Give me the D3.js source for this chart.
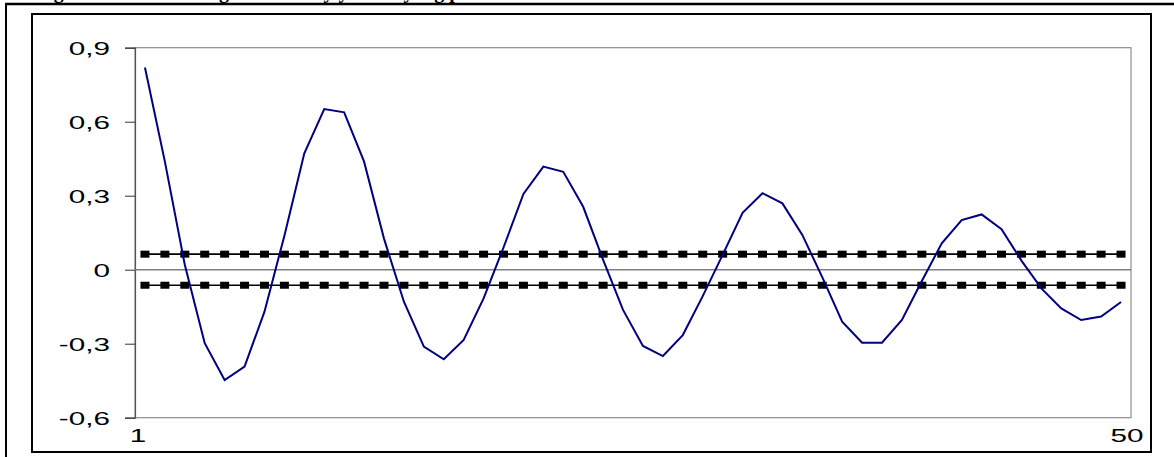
<!DOCTYPE html>
<html>
<head>
<meta charset="utf-8">
<script src="https://cdn.jsdelivr.net/npm/d3@7"></script>
<style>
  html, body { margin: 0; padding: 0; background: #fff; }
  svg { display: block; }
</style>
</head>
<body>
<svg id="chart" width="1174" height="457"></svg>
<script>
// Lags 1..50
const lags = d3.range(1, 51);

// Autocorrelation coefficient at each lag
const acf = [
  0.82, 0.438, 0.02, -0.298, -0.447, -0.393, -0.170, 0.138, 0.472, 0.651,
  0.638, 0.438, 0.126, -0.130, -0.312, -0.363, -0.285, -0.116, 0.09, 0.307,
  0.418, 0.397, 0.255, 0.04, -0.163, -0.309, -0.350, -0.265, -0.107, 0.06,
  0.231, 0.310, 0.269, 0.141, -0.03, -0.211, -0.296, -0.296, -0.204, -0.046,
  0.107, 0.201, 0.224, 0.164, 0.037, -0.076, -0.157, -0.204, -0.190, -0.131
];

// Confidence bounds (upper / lower)
const upperBound = 0.063;
const lowerBound = -0.063;

// Axis ticks
const yTicks = [-0.6, -0.3, 0, 0.3, 0.6, 0.9];
const xTickLabels = ["1", "50"];

const svg = d3.select("#chart");

// Page frame lines
svg.append("line").attr("x1", 5).attr("x2", 1174).attr("y1", 4).attr("y2", 4)
  .attr("stroke", "#000").attr("stroke-width", 2.5);
svg.append("line").attr("x1", 6).attr("x2", 6).attr("y1", 3).attr("y2", 457)
  .attr("stroke", "#000").attr("stroke-width", 2);

// Caption, mostly clipped above the frame
svg.append("text")
  .attr("x", 36).attr("y", -2)
  .attr("font-family", "Liberation Serif, Times New Roman, serif")
  .attr("font-weight", "bold").attr("font-size", 20)
  .text("Figure 2. Autocorrelogram of daily yields by lag period");

// Chart frame
svg.append("rect")
  .attr("x", 32).attr("y", 14).attr("width", 1119).attr("height", 438)
  .attr("fill", "#fff").attr("stroke", "#000").attr("stroke-width", 2);

const plot = { left: 135, right: 1131, top: 47.7, bottom: 417.7 };

const x = d3.scalePoint().domain(lags).range([plot.left, plot.right]).padding(0.5);
const y = d3.scaleLinear().domain([-0.6, 0.9]).range([plot.bottom, plot.top]);

// Plot area border
svg.append("rect")
  .attr("x", plot.left).attr("y", plot.top)
  .attr("width", plot.right - plot.left).attr("height", plot.bottom - plot.top)
  .attr("fill", "none").attr("stroke", "#8c8c8c").attr("stroke-width", 1.2);

// Y axis
const fmt = v => v === 0 ? "0" : d3.format(".1f")(v).replace(".", ",").replace("−", "-");
const yAxis = d3.axisLeft(y).tickValues(yTicks).tickSize(10).tickFormat(fmt);
const gy = svg.append("g").attr("transform", `translate(${plot.left},0)`).call(yAxis);
gy.select(".domain").attr("stroke", "#555").attr("stroke-width", 1.2);
gy.selectAll(".tick line").attr("stroke", "#333").attr("stroke-width", 1);
gy.selectAll(".tick text").remove();
gy.selectAll(".tick").append("text")
  .attr("fill", "#000")
  .attr("font-family", "Liberation Sans, Arial, sans-serif")
  .attr("font-size", 18)
  .attr("text-anchor", "end")
  .attr("dy", "0.36em")
  .attr("transform", "translate(-25,0) scale(1.65,1)")
  .text(d => fmt(d));

// Zero line
svg.append("line")
  .attr("x1", plot.left).attr("x2", plot.right)
  .attr("y1", y(0)).attr("y2", y(0))
  .attr("stroke", "#7f7f7f").attr("stroke-width", 1.5);

// X labels at first and last lag
const xLab = svg.append("g")
  .attr("font-family", "Liberation Sans, Arial, sans-serif")
  .attr("font-size", 18).attr("fill", "#000");
xLab.append("text")
  .attr("transform", `translate(${x(1) - 7},442) scale(1.65,1)`)
  .attr("text-anchor", "middle").text(xTickLabels[0]);
xLab.append("text")
  .attr("transform", `translate(${x(50) + 6},442) scale(1.65,1)`)
  .attr("text-anchor", "middle").text(xTickLabels[1]);

// Confidence bound series: thin line with square markers
[upperBound, lowerBound].forEach(b => {
  const pts = lags.map(l => [x(l), y(b)]);
  svg.append("path")
    .attr("d", d3.line()(pts))
    .attr("fill", "none").attr("stroke", "#000").attr("stroke-width", 1.6);
  svg.append("g").selectAll("rect").data(lags).join("rect")
    .attr("x", l => x(l) - 4.5).attr("y", y(b) - 3.5)
    .attr("width", 9).attr("height", 7)
    .attr("fill", "#000");
});

// Autocorrelation line
svg.append("path")
  .datum(acf)
  .attr("d", d3.line().x((d, i) => x(lags[i])).y(d => y(d)))
  .attr("fill", "none")
  .attr("stroke", "#000080")
  .attr("stroke-width", 2);
</script>
</body>
</html>
